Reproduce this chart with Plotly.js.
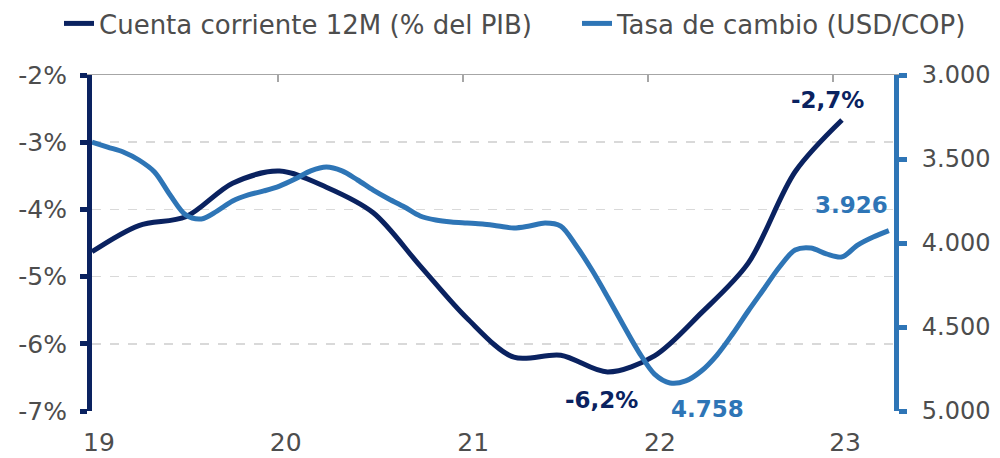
<!DOCTYPE html>
<html>
<head>
<meta charset="utf-8">
<script src="https://cdn.plot.ly/plotly-3.0.1.min.js"></script>
<style>
  html, body { margin: 0; padding: 0; background: #ffffff; }
  #chart { width: 1000px; height: 458px; }
</style>
</head>
<body>
<div id="chart"></div>
<script>
// Cuenta corriente 12M (% del PIB), quarterly, 2019-T1 .. 2023-T1
const cuentaCorriente = [-4.63, -4.24, -4.11, -3.61, -3.43, -3.67, -4.05, -4.84, -5.62, -6.20, -6.17, -6.42, -6.18, -5.54, -4.80, -3.44, -2.67];

// Tasa de cambio (USD/COP), monthly, ene-2019 .. abr-2023
const tasaCambio = [3399, 3429, 3458, 3506, 3577, 3714, 3833, 3857, 3810, 3750, 3714, 3690,
                    3661, 3619, 3571, 3548, 3571, 3625, 3685, 3738, 3786, 3839, 3863, 3875,
                    3881, 3887, 3899, 3911, 3899, 3881, 3899, 4018, 4161, 4321, 4488, 4649,
                    4780, 4833, 4821, 4762, 4667, 4542, 4405, 4274, 4143, 4042, 4030, 4065,
                    4083, 4012, 3964, 3926];

const yearLabels = ['19', '20', '21', '22', '23'];
const leftTickVals = [-7, -6, -5, -4, -3, -2];
const leftTickText = ['-7%', '-6%', '-5%', '-4%', '-3%', '-2%'];
const rightTickVals = [3000, 3500, 4000, 4500, 5000];
const rightTickText = ['3.000', '3.500', '4.000', '4.500', '5.000'];

const seriesNames = ['Cuenta corriente 12M (% del PIB)', 'Tasa de cambio (USD/COP)'];
const labelCC = { last: '-2,7%', min: '-6,2%' };
const labelTC = { last: '3.926', min: '4.758' };

const NAVY = '#0a2260';
const BLUE = '#2e75b6';
const GRAY_TXT = '#4d4d4d';
const FONT = 'DejaVu Sans';

const ccX = cuentaCorriente.map((_, i) => i * 3);   // month index
const tcX = tasaCambio.map((_, i) => i);

const traces = [
  {
    x: ccX, y: cuentaCorriente, name: seriesNames[0],
    type: 'scatter', mode: 'lines', xaxis: 'x', yaxis: 'y', legend: 'legend',
    line: { color: NAVY, width: 5, shape: 'spline', smoothing: 0.9 },
    hoverinfo: 'skip'
  },
  {
    x: tcX, y: tasaCambio, name: seriesNames[1],
    type: 'scatter', mode: 'lines', xaxis: 'x2', yaxis: 'y2', legend: 'legend2',
    line: { color: BLUE, width: 5, shape: 'spline', smoothing: 0.9 },
    hoverinfo: 'skip'
  }
];

const lastCC = cuentaCorriente.length - 1;
const minCCIdx = 11;
const lastTC = tasaCambio.length - 1;
const minTCIdx = tasaCambio.indexOf(Math.max(...tasaCambio));

const xRange = [0, 51.33];
const legendFont = { family: FONT, size: 26, color: GRAY_TXT };

const layout = {
  width: 1000, height: 458,
  margin: { l: 92, r: 106, t: 75, b: 47, autoexpand: false },
  paper_bgcolor: '#ffffff', plot_bgcolor: '#ffffff',
  font: { family: FONT, color: GRAY_TXT, size: 25 },
  showlegend: true,
  legend: {
    orientation: 'h', xref: 'container', yref: 'container',
    x: 0.059, xanchor: 'left', y: 1.0, yanchor: 'top',
    font: legendFont, bgcolor: 'rgba(0,0,0,0)'
  },
  legend2: {
    orientation: 'h', xref: 'container', yref: 'container',
    x: 0.577, xanchor: 'left', y: 1.0, yanchor: 'top',
    font: legendFont, bgcolor: 'rgba(0,0,0,0)'
  },
  xaxis: {
    range: xRange, showgrid: false, zeroline: false, showline: false,
    tickmode: 'array', tickvals: [0.45, 12.4, 24.4, 36.35, 48.2], ticktext: yearLabels,
    ticks: '', ticklabelstandoff: 14,
    tickfont: { family: FONT, size: 25, color: GRAY_TXT },
    fixedrange: true
  },
  xaxis2: {
    range: xRange, overlaying: 'x', anchor: 'y2', side: 'top',
    showgrid: false, zeroline: false, showline: true, linecolor: '#a6a6a6', linewidth: 1.5,
    tickmode: 'array', tickvals: [0.06, 11.9, 23.74, 35.58, 47.42],
    ticks: 'inside', ticklen: 7, tickwidth: 1.5, tickcolor: '#a6a6a6',
    showticklabels: false, fixedrange: true
  },
  yaxis: {
    range: [-7, -2], tickmode: 'array', tickvals: leftTickVals, ticktext: leftTickText,
    showgrid: true, gridcolor: '#d9d9d9', gridwidth: 1.5, griddash: 'dash',
    zeroline: false, showline: true, linecolor: NAVY, linewidth: 5,
    ticks: 'outside', ticklen: 7, tickwidth: 5, tickcolor: NAVY,
    ticklabelstandoff: 8,
    tickfont: { family: FONT, size: 25, color: GRAY_TXT },
    fixedrange: true
  },
  yaxis2: {
    range: [5000, 3000], overlaying: 'y', side: 'right', anchor: 'x2',
    tickmode: 'array', tickvals: rightTickVals, ticktext: rightTickText,
    showgrid: false, zeroline: false, showline: true, linecolor: BLUE, linewidth: 5,
    ticks: 'outside', ticklen: 8, tickwidth: 5, tickcolor: BLUE,
    ticklabelstandoff: 10,
    tickfont: { family: FONT, size: 24, color: GRAY_TXT },
    fixedrange: true
  },
  annotations: [
    { xref: 'x', yref: 'y', x: ccX[lastCC], y: cuentaCorriente[lastCC], text: '<b>' + labelCC.last + '</b>',
      showarrow: false, xshift: -14, yshift: 20, font: { family: FONT, size: 23, color: NAVY } },
    { xref: 'x', yref: 'y', x: ccX[minCCIdx], y: cuentaCorriente[minCCIdx], text: '<b>' + labelCC.min + '</b>',
      showarrow: false, xshift: -6, yshift: -28, font: { family: FONT, size: 23, color: NAVY } },
    { xref: 'x2', yref: 'y2', x: tcX[lastTC], y: tasaCambio[lastTC], text: '<b>' + labelTC.last + '</b>',
      showarrow: false, xshift: -37, yshift: 26, font: { family: FONT, size: 23, color: BLUE } },
    { xref: 'x2', yref: 'y2', x: tcX[minTCIdx], y: tasaCambio[minTCIdx], text: '<b>' + labelTC.min + '</b>',
      showarrow: false, xshift: 37, yshift: -26, font: { family: FONT, size: 23, color: BLUE } }
  ]
};

Plotly.newPlot('chart', traces, layout, { staticPlot: true, displayModeBar: false });
</script>
</body>
</html>
